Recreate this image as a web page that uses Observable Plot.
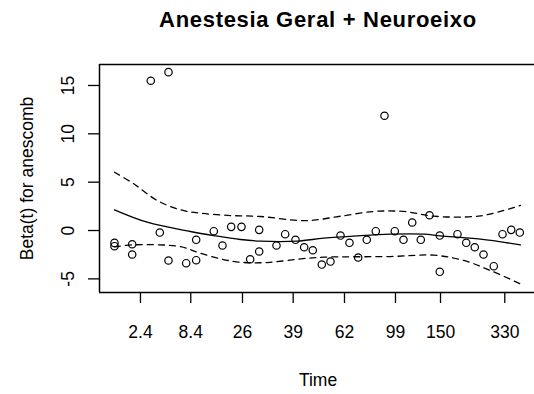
<!DOCTYPE html>
<html><head><meta charset="utf-8">
<script src="https://cdn.jsdelivr.net/npm/d3@7"></script>
<script src="https://cdn.jsdelivr.net/npm/@observablehq/plot@0.6"></script>
<style>
body{margin:0;background:#fff;}
#chart svg{display:block;}
</style>
</head><body><div id="chart"></div>
<script>
const title = "Anestesia Geral + Neuroeixo";
const xLabel = "Time";
const yLabel = "Beta(t) for anescomb";

// x = transformed (KM-scale) time, 0..100; y = scaled Schoenfeld residual
const pointTime = [0,0,4.36,4.36,8.94,11.16,13.30,13.30,17.66,20.12,20.12,24.46,26.60,28.74,31.28,33.42,35.64,35.64,39.90,42.04,44.58,46.72,48.84,51.06,53.20,55.67,57.88,60.02,62.14,64.36,66.50,69.04,71.18,73.33,75.44,77.59,80.12,80.12,84.48,86.63,88.74,90.89,93.42,95.57,97.71,99.83];
const pointBeta = [-1.28,-1.62,-1.42,-2.48,15.49,-0.21,16.38,-3.10,-3.38,-0.96,-3.07,-0.07,-1.55,0.38,0.38,-2.97,0.07,-2.17,-1.55,-0.38,-0.96,-1.73,-2.04,-3.52,-3.21,-0.52,-1.27,-2.79,-0.96,-0.07,11.87,-0.07,-0.96,0.83,-0.96,1.58,-0.52,-4.27,-0.38,-1.27,-1.73,-2.48,-3.69,-0.38,0.07,-0.21];

const fitTime = [0,8.05,18.72,24.46,31.03,35.96,45.0,51.55,59.78,67.98,76.18,80.30,90.15,100];
const fitBeta = [2.14,0.86,-0.10,-0.52,-0.93,-1.10,-1.10,-0.79,-0.55,-0.38,-0.38,-0.55,-0.90,-1.48];

const upperTime = [0,4.75,10.52,16.26,21.18,28.57,35.96,45.39,49.09,55.67,63.87,71.26,78.65,90.15,100];
const upperBeta = [6.03,4.83,3.10,2.14,1.79,1.55,1.45,1.03,1.07,1.48,1.97,1.97,1.48,1.52,2.60];

const lowerTime = [0,4.75,16.26,20.37,26.11,31.03,37.61,45.39,51.55,67.98,78.65,86.04,92.61,100];
const lowerBeta = [-1.69,-1.48,-1.66,-2.24,-2.93,-3.28,-3.31,-2.95,-2.76,-2.69,-2.55,-3.10,-4.14,-5.52];

const tickPos = [6.40,18.79,31.53,44.01,56.65,69.21,80.30,96.13];
const tickLabels = ["2.4","8.4","26","39","62","99","150","330"];
const yTicks = [-5,0,5,10,15];

const xDomain = [-3.69, 103.45];
const yDomain = [-6.41, 17.17];

const pts = pointTime.map((t,i)=>({t, b: pointBeta[i]}));
const fit = fitTime.map((t,i)=>({t, b: fitBeta[i]}));
const upper = upperTime.map((t,i)=>({t, b: upperBeta[i]}));
const lower = lowerTime.map((t,i)=>({t, b: lowerBeta[i]}));

const fs = 17.5;
const chart = Plot.plot({
  width: 534, height: 394,
  marginLeft: 99, marginRight: 0, marginTop: 64, marginBottom: 102,
  style: {fontFamily: "'Liberation Sans', Arial, Helvetica, sans-serif", background: "white", color: "black"},
  x: {domain: xDomain, axis: null, label: null},
  y: {domain: yDomain, axis: null, label: null},
  marks: [
    Plot.ruleY([yDomain[1]], {stroke: "black", strokeWidth: 1.5}),
    Plot.ruleY([yDomain[0]], {stroke: "black", strokeWidth: 1.5}),
    Plot.ruleX([xDomain[0]], {stroke: "black", strokeWidth: 1.5}),
    Plot.axisX({ticks: tickPos, tickFormat: d => tickLabels[tickPos.indexOf(d)], tickSize: 11, tickPadding: 22.5, fontSize: fs, strokeWidth: 1.3, label: null}),
    Plot.axisY({ticks: yTicks, tickFormat: () => "", tickSize: 11, strokeWidth: 1.3, label: null}),
    Plot.text(yTicks, {y: d => d, text: d => String(d), frameAnchor: "left", dx: -31, rotate: -90, fontSize: fs, textAnchor: "middle", lineAnchor: "middle"}),
    Plot.text([yLabel], {text: d => d, frameAnchor: "left", dx: -72, rotate: -90, fontSize: fs, textAnchor: "middle", lineAnchor: "middle"}),
    Plot.text([xLabel], {text: d => d, frameAnchor: "bottom", dx: 1, dy: 87.4, fontSize: fs, lineAnchor: "middle"}),
    Plot.text([title], {text: d => d, frameAnchor: "top", dx: 1, dy: -44.3, fontSize: 22, fontWeight: "bold", lineAnchor: "middle"}),
    Plot.line(fit, {x: "t", y: "b", stroke: "black", strokeWidth: 1.3, curve: "catmull-rom"}),
    Plot.line(upper, {x: "t", y: "b", stroke: "black", strokeWidth: 1.3, strokeDasharray: "6,5", strokeLinecap: "round", curve: "catmull-rom"}),
    Plot.line(lower, {x: "t", y: "b", stroke: "black", strokeWidth: 1.3, strokeDasharray: "6,5", strokeLinecap: "round", curve: "catmull-rom"}),
    Plot.dot(pts, {x: "t", y: "b", r: 3.7, stroke: "black", strokeWidth: 1.2, fill: "none"})
  ]
});
d3.select(chart).selectAll("text").filter(function(){ return this.textContent === title; }).attr("letter-spacing", "0.7px");
document.getElementById("chart").appendChild(chart);
</script>
</body></html>
